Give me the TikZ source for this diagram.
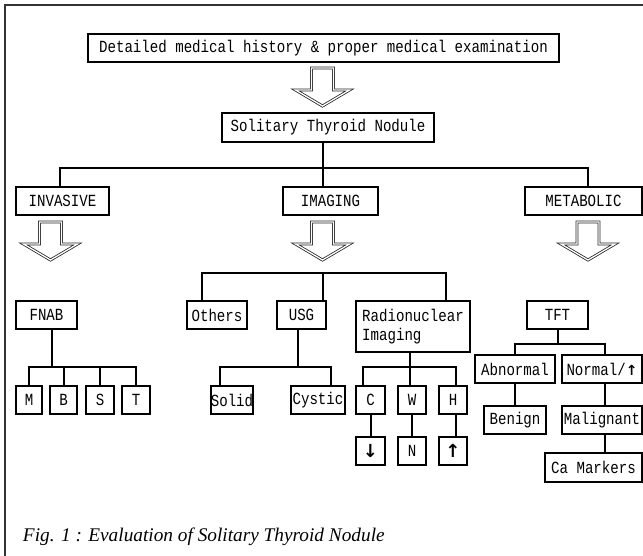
\documentclass[tikz,border=0pt]{standalone}
\usepackage{fontspec}
\setmainfont{Liberation Serif}
\newfontfamily\boxfont[FakeStretch=0.83]{Liberation Mono}
\newfontfamily\symfont{DejaVu Sans}

\begin{document}
\begin{tikzpicture}[x=1pt,y=-1pt,line width=2pt,
  blk/.style={draw,line width=1.9pt,inner sep=0pt,minimum height=28pt,
    font=\boxfont\fontsize{17}{19}\selectfont},
  hollow/.style={draw=black!85,line width=0.8pt,double=white,double distance=1.3pt},
  pics/bigarrow/.style={code={
    \draw[hollow] (-11,0) -- (11,0) -- (11,22) -- (27,22) -- (0,38)
      -- (-27,22) -- (-11,22) -- cycle;}}]
  \useasboundingbox (0,0) rectangle (643,555);
  \draw[line width=2.6pt,black!80] (5,556) -- (5,5) -- (644,5);

  \node[blk,minimum width=471pt] (hist) at (323.5,48)
    {Detailed medical history \& proper medical examination};
  \pic at (322.5,68) {bigarrow};
  \node[blk,minimum width=212pt,minimum height=29pt] (stn) at (328,127.5)
    {Solitary Thyroid Nodule};

  \node[blk,minimum width=93pt] (inv) at (62.5,201) {INVASIVE};
  \node[blk,minimum width=95pt] (img) at (330.5,201) {IMAGING};
  \node[blk,minimum width=117pt] (met) at (583.5,201) {METABOLIC};
  \coordinate (br) at (322.5,168);
  \draw (br |- stn.south) -- (br |- img.north);
  \draw ([xshift=-2.5pt]inv.north) |- (br) -| ([xshift=4.5pt]met.north);

  \pic at (50.5,222) {bigarrow};
  \pic at (322.5,222) {bigarrow};
  \pic at (588,222) {bigarrow};

  % invasive
  \node[blk,minimum width=61pt] (fnab) at (46.5,315) {FNAB};
  \node[blk,minimum width=26pt] (m) at (29,400) {M};
  \node[blk,minimum width=27pt] (b) at (63.5,400) {B};
  \node[blk,minimum width=28pt] (s) at (100,400) {S};
  \node[blk,minimum width=28pt] (t) at (136,400) {T};
  \coordinate (fb) at (52,367);
  \draw (fb |- fnab.south) -- (fb);
  \foreach \n in {m,b,s,t} \draw (fb) -| (\n.north);

  % imaging
  \node[blk,minimum width=60pt] (oth) at (217,315) {Others};
  \node[blk,minimum width=49pt] (usg) at (301.5,315) {USG};
  \node[blk,minimum width=114pt,minimum height=51pt,align=left] (rn) at (413,326.5)
    {Radionuclear\\Imaging};
  \coordinate (ib) at (322.5,273);
  \draw ([xshift=-15pt]oth.north) |- (ib) -| ([xshift=33pt]rn.north);
  \draw (ib) -- (ib |- usg.north);

  \node[blk,minimum width=40pt] (sol) at (232,400) {Solid};
  \node[blk,minimum width=54pt] (cys) at (318,400) {Cystic};
  \coordinate (ub) at (298,367);
  \draw (ub |- usg.south) -- (ub);
  \draw ([xshift=-12pt]sol.north) |- (ub) -| ([xshift=13pt]cys.north);

  \node[blk,minimum width=29pt] (c) at (370.5,400) {C};
  \node[blk,minimum width=28pt] (w) at (412,400) {W};
  \node[blk,minimum width=28pt] (h) at (453,400) {H};
  \node[blk,minimum width=29pt] (cdn) at (370.5,451) {\symfont\bfseries\fontsize{18}{18}\selectfont ↓};
  \node[blk,minimum width=28pt] (wn) at (412,451) {N};
  \node[blk,minimum width=28pt] (hup) at (453,451) {\symfont\bfseries\fontsize{18}{18}\selectfont ↑};
  \coordinate (rb) at (410,367);
  \draw (rb |- rn.south) -- (rb);
  \draw ([xshift=-7.5pt]c.north) |- (rb) -| ([xshift=3pt]h.north);
  \draw (rb) -- (rb |- w.north);
  \draw (c) -- (cdn);
  \draw (w) -- (wn);
  \draw ([xshift=3pt]h.south) -- ([xshift=3pt]hup.north);

  % metabolic
  \node[blk,minimum width=61pt] (tft) at (557.5,315) {TFT};
  \node[blk,minimum width=80pt] (abn) at (515,369) {Abnormal};
  \node[blk,minimum width=80pt] (nor) at (602,369) {Normal/{\symfont\bfseries\fontsize{14}{14}\selectfont ↑}};
  \node[blk,minimum width=62pt] (ben) at (515,420) {Benign};
  \node[blk,minimum width=80pt] (mal) at (602,420) {Malignant};
  \node[blk,minimum width=97pt,minimum height=29pt] (cam) at (593.5,467.5) {Ca Markers};
  \coordinate (tb) at (558,344);
  \draw (tb |- tft.south) -- (tb);
  \draw (abn.north) |- (tb) -| ([xshift=3pt]nor.north);
  \draw (abn) -- (ben);
  \draw ([xshift=3pt]nor.south) -- ([xshift=3pt]mal.north);
  \draw ([xshift=3pt]mal.south) -- ([xshift=11.5pt]cam.north);

  \node[anchor=base west,inner sep=0pt,font=\itshape\fontsize{19.3}{23}\selectfont]
    (cap) at (22,541) {Fig. 1 : Evaluation of Solitary Thyroid Nodule};
\end{tikzpicture}
\end{document}
